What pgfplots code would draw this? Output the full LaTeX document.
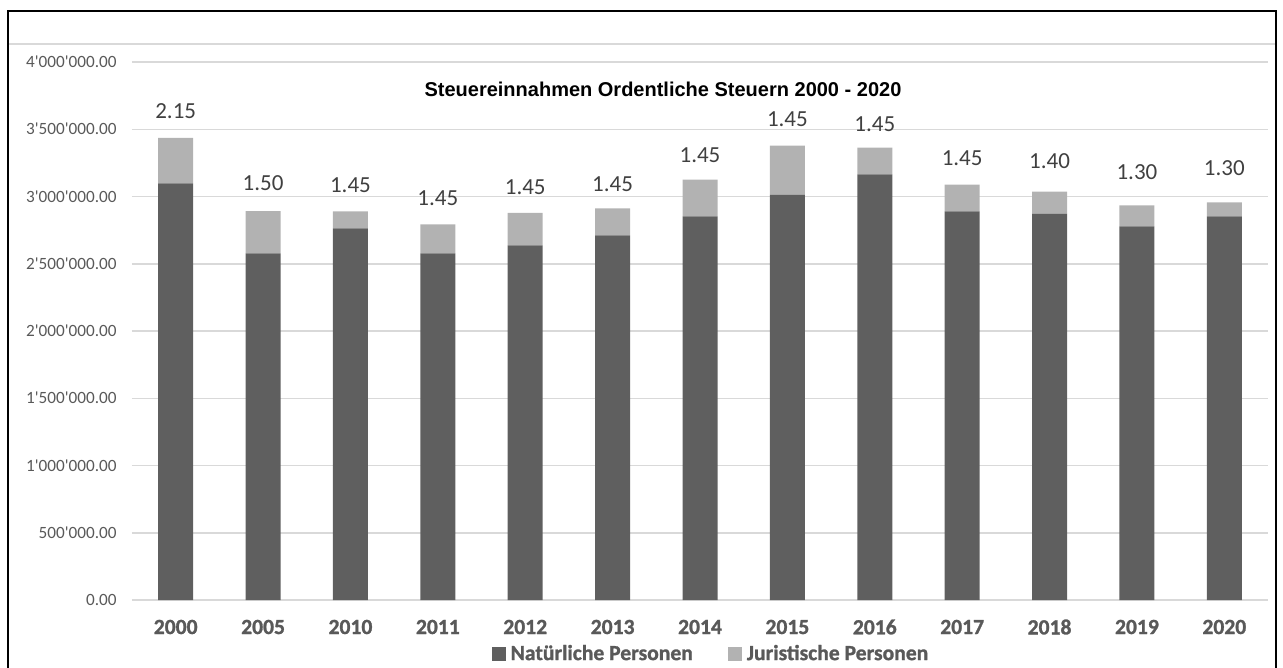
\documentclass[border=0pt]{standalone}
\usepackage{pgfplots}
\pgfplotsset{compat=1.18}
\usepackage{pgfplotstable}
\usepackage{fontspec}
\setmainfont{Carlito}[BoldFont={Carlito Bold}, BoldFeatures={FakeBold=1.2}]
\newfontfamily\titlefont{Liberation Sans}
\definecolor{natcol}{RGB}{95,95,95}
\definecolor{jurcol}{RGB}{178,178,178}
\definecolor{gridcol}{RGB}{217,217,217}
\definecolor{ticktxt}{RGB}{89,89,89}
\definecolor{labtxt}{RGB}{64,64,64}
\newcommand{\q}{\textquotesingle}

% Steuereinnahmen (CHF), natuerliche / juristische Personen, Steuerfuss
\pgfplotstableread{
x nat jur ly lab
0 3098000 337000 3631000 2.15
1 2577000 315000 3095000 1.50
2 2763000 126000 3080000 1.45
3 2577000 215000 2984000 1.45
4 2636000 243000 3063000 1.45
5 2711000 200000 3088000 1.45
6 2852000 273000 3304000 1.45
7 3013000 365000 3571000 1.45
8 3164000 199000 3534000 1.45
9 2889000 199000 3281000 1.45
10 2872000 164000 3261000 1.40
11 2778000 156000 3177000 1.30
12 2852000 104000 3203000 1.30
}\steuern

\begin{document}
\begin{tikzpicture}
\path[use as bounding box] (-66pt,-34pt) rectangle (575.5pt,300pt);
\begin{axis}[
  at={(0,0)}, anchor=south west,
  scale only axis, width=568pt, height=269pt,
  ybar stacked, bar width=17.5pt,
  xmin=-0.5, xmax=12.5, ymin=0, ymax=4000000,
  scaled y ticks=false,
  xtick={0,...,12},
  xticklabels={2000,2005,2010,2011,2012,2013,2014,2015,2016,2017,2018,2019,2020},
  ytick={0,500000,1000000,1500000,2000000,2500000,3000000,3500000,4000000},
  yticklabels={0.00,500\q000.00,1\q000\q000.00,1\q500\q000.00,2\q000\q000.00,2\q500\q000.00,3\q000\q000.00,3\q500\q000.00,4\q000\q000.00},
  axis line style={draw=none},
  major tick length=0pt,
  ymajorgrids, grid style={gridcol, line width=0.75pt},
  yticklabel style={font=\fontsize{8.6}{10}\selectfont, text=ticktxt, anchor=east, inner xsep=0pt, xshift=-7.5pt},
  xticklabel style={font=\fontsize{10.8}{12}\selectfont\bfseries, text=ticktxt, anchor=center, inner sep=0pt, yshift=-13.5pt},
  title={\titlefont\bfseries Steuereinnahmen Ordentliche Steuern 2000 - 2020},
  title style={at={(0.4674,0.9275)}, anchor=center, font=\fontsize{10}{12}\selectfont, inner sep=0pt},
  legend columns=2,
  legend style={at={(0.511,-0.1004)}, anchor=center, draw=none, fill=none,
    font=\fontsize{10.8}{12}\selectfont\bfseries, text=ticktxt,
    /tikz/every even column/.append style={column sep=15pt},
    nodes={inner xsep=2.5pt, inner ysep=0pt}},
  legend image code/.code={\fill[#1] (0pt,-3.3pt) rectangle (7pt,3.3pt);},
]
  \addplot[fill=natcol, draw=none] table[x=x, y=nat] {\steuern};
  \addlegendentry{\bfseries Natürliche Personen}
  \addplot[fill=jurcol, draw=none] table[x=x, y=jur] {\steuern};
  \addlegendentry{\bfseries Juristische Personen}
\end{axis}
% Steuerfuss als Beschriftung ueber den Saeulen
\begin{axis}[
  at={(0,0)}, anchor=south west,
  scale only axis, width=568pt, height=269pt,
  xmin=-0.5, xmax=12.5, ymin=0, ymax=4000000,
  hide axis, clip=false,
]
  \addplot[only marks, mark=none, nodes near coords, point meta=explicit symbolic,
    nodes near coords style={font=\fontsize{11.5}{13}\selectfont, text=labtxt, anchor=south, inner sep=0pt, yshift=-3.65pt}]
    table[x=x, y=ly, meta=lab] {\steuern};
\end{axis}
\draw[gridcol, line width=1pt] (-62pt,278pt) -- (572pt,278pt);
\draw[black, line width=0.9pt] (-62pt,-40pt) -- (-62pt,294.5pt) -- (572pt,294.5pt) -- (572pt,-40pt);
\end{tikzpicture}
\end{document}
